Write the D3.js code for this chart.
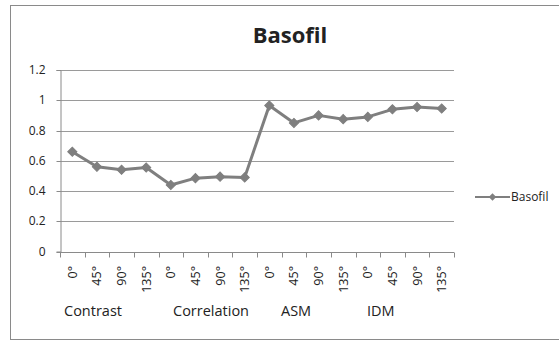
<!DOCTYPE html>
<html>
<head>
<meta charset="utf-8">
<script src="https://cdn.jsdelivr.net/npm/d3@7"></script>
<style>
  html, body { margin: 0; padding: 0; background: #fff; }
  svg { display: block; }
  text { font-family: "Open Sans", "Noto Sans", sans-serif; fill: #222; }
</style>
</head>
<body>
<svg id="chart" width="559" height="341"></svg>
<script>
// Texture features per angle, Basofil class
const groups = ["Contrast", "Correlation", "ASM", "IDM"];
const angles = ["0°", "45°", "90°", "135°"];
const basofil = [0.66, 0.56, 0.54, 0.555, 0.44, 0.485, 0.495, 0.49,
                 0.965, 0.85, 0.90, 0.875, 0.89, 0.94, 0.955, 0.945];
const yTicks = [0, 0.2, 0.4, 0.6, 0.8, 1, 1.2];
const seriesName = "Basofil";

const categories = [];
groups.forEach(g => angles.forEach(a => categories.push({ id: g + "|" + a, group: g, angle: a })));

const svg = d3.select("#chart");
const W = 559, H = 341;
const plot = { left: 60, right: 454, top: 70, bottom: 251.5 };
const gray = "#7f7f7f";

// chart frame
svg.append("rect")
  .attr("x", 10.5).attr("y", 5.5)
  .attr("width", W + 10).attr("height", 334)
  .attr("fill", "#fff").attr("stroke", "#8a8a8a").attr("stroke-width", 1);

const x = d3.scaleBand()
  .domain(categories.map(d => d.id))
  .range([plot.left, plot.right]);

const y = d3.scaleLinear()
  .domain([0, 1.2])
  .range([plot.bottom, plot.top]);

// horizontal gridlines
svg.append("g")
  .selectAll("line")
  .data(yTicks.filter(t => t > 0))
  .join("line")
  .attr("x1", plot.left).attr("x2", plot.right)
  .attr("y1", d => Math.round(y(d)) + 0.5).attr("y2", d => Math.round(y(d)) + 0.5)
  .attr("stroke", "#9a9a9a").attr("stroke-width", 1);

// y axis
const yAxis = svg.append("g")
  .attr("transform", `translate(${plot.left + 0.5},0)`)
  .call(d3.axisLeft(y).tickValues(yTicks).tickFormat(d3.format("~g")).tickSize(4).tickPadding(11));
yAxis.select(".domain").attr("stroke", "#8a8a8a");
yAxis.selectAll(".tick line").attr("stroke", "#8a8a8a");
yAxis.selectAll(".tick").attr("transform", d => `translate(0,${Math.round(y(d)) + 0.5})`);
yAxis.selectAll("text").attr("font-size", 12).attr("fill", "#222")
  .attr("font-family", "'Open Sans', sans-serif");

// x axis: ticks at category boundaries
const xAxisG = svg.append("g")
  .attr("transform", `translate(0,${Math.round(plot.bottom) + 0.5})`);
xAxisG.append("line")
  .attr("x1", plot.left).attr("x2", plot.right)
  .attr("stroke", "#8a8a8a");
const boundaries = categories.map(d => x(d.id)).concat([plot.right]);
xAxisG.selectAll("line.tk")
  .data(boundaries)
  .join("line")
  .attr("class", "tk")
  .attr("x1", d => Math.round(d) + 0.5).attr("x2", d => Math.round(d) + 0.5)
  .attr("y1", 0).attr("y2", 5)
  .attr("stroke", "#8a8a8a");

// rotated angle labels
svg.append("g")
  .selectAll("text")
  .data(categories)
  .join("text")
  .attr("transform", d => `translate(${x(d.id) + x.bandwidth() / 2 + 4.5},266) rotate(-90)`)
  .attr("text-anchor", "end")
  .attr("font-size", 12.5)
  .text(d => d.angle);

// group labels under the angle labels
const groupLabelX = [64, 173, 281, 367];
svg.append("g")
  .selectAll("text")
  .data(groups)
  .join("text")
  .attr("x", (d, i) => groupLabelX[i])
  .attr("y", 316)
  .attr("font-size", 14.5)
  .text(d => d);

// series line
const line = d3.line()
  .x((d, i) => x(categories[i].id) + x.bandwidth() / 2)
  .y(d => y(d));

svg.append("path")
  .datum(basofil)
  .attr("d", line)
  .attr("fill", "none")
  .attr("stroke", gray)
  .attr("stroke-width", 3)
  .attr("stroke-linejoin", "round");

// diamond markers: squares turned 45°
const marker = d3.symbol().type(d3.symbolSquare).size(42);
svg.append("g")
  .selectAll("path")
  .data(basofil)
  .join("path")
  .attr("transform", (d, i) => `translate(${x(categories[i].id) + x.bandwidth() / 2},${y(d)}) rotate(45)`)
  .attr("d", marker)
  .attr("fill", gray)
  .attr("stroke", gray);

// title
svg.append("text")
  .attr("x", 290).attr("y", 43)
  .attr("text-anchor", "middle")
  .attr("font-size", 22)
  .attr("font-weight", "bold")
  .attr("fill", "#000")
  .text(seriesName);

// legend
const lg = svg.append("g").attr("transform", "translate(475,197)");
lg.append("line").attr("x1", 0).attr("x2", 35).attr("stroke", gray).attr("stroke-width", 2);
lg.append("path").attr("transform", "translate(17.5,0) rotate(45)")
  .attr("d", d3.symbol().type(d3.symbolSquare).size(28)).attr("fill", gray);
lg.append("text").attr("x", 36).attr("y", 4).attr("font-size", 12).text(seriesName);
</script>
</body>
</html>
